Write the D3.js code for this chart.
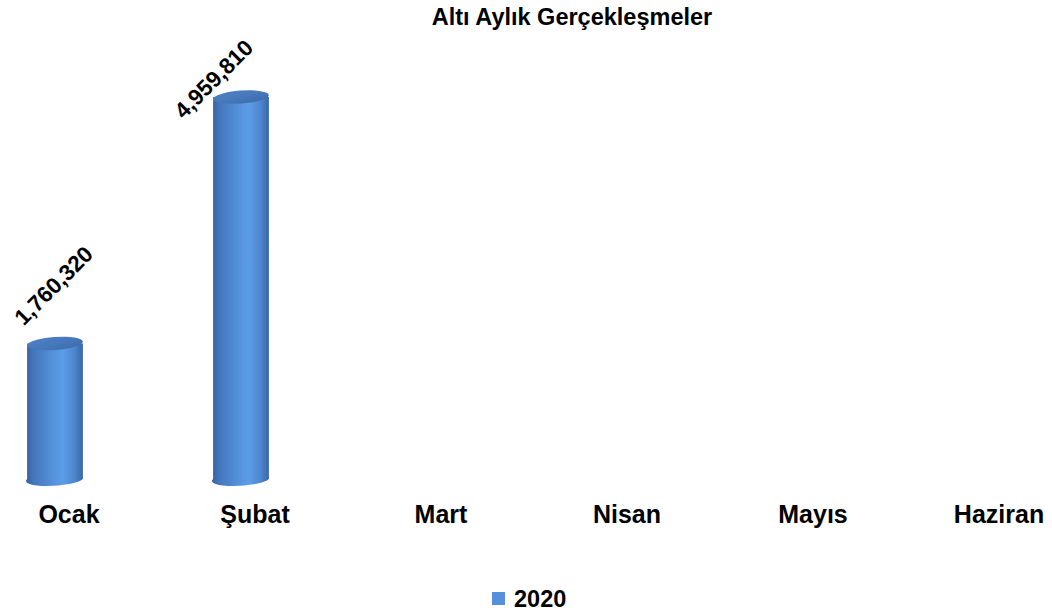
<!DOCTYPE html>
<html><head><meta charset="utf-8">
<script src="https://cdn.jsdelivr.net/npm/d3@7"></script>
<style>body{margin:0;background:#fff}svg{display:block}text{font-family:"Liberation Sans",Arial,sans-serif;font-weight:bold;fill:#000}</style>
</head><body>
<svg id="c" width="1052" height="615"></svg>
<script>
const title = "Altı Aylık Gerçekleşmeler";
const months = ["Ocak","Şubat","Mart","Nisan","Mayıs","Haziran"];
const values2020 = [1760320, 4959810, null, null, null, null];
const seriesName = "2020";

const svg = d3.select("#c");
const x = d3.scaleBand().domain(months).range([-24, 1092]).paddingInner(0.7).paddingOuter(0.35);
const y = d3.scaleLinear().domain([0, 6000000]).range([479, 17]);
const barShift = -14;
const rx = () => x.bandwidth() / 2, ry = 6.5;

const defs = svg.append("defs");
const g1 = defs.append("linearGradient").attr("id","side").attr("x1","0").attr("x2","1").attr("y1","0").attr("y2","0");
[["0%","#36609e"],["12%","#4475bb"],["45%","#5390da"],["65%","#5c9de8"],["85%","#4e86cf"],["100%","#3a66a6"]]
  .forEach(s=>g1.append("stop").attr("offset",s[0]).attr("stop-color",s[1]));
const g2 = defs.append("linearGradient").attr("id","top").attr("x1","0").attr("x2","1").attr("y1","0").attr("y2","1");
[["0%","#4f82c6"],["50%","#4678bb"],["100%","#3b6aab"]]
  .forEach(s=>g2.append("stop").attr("offset",s[0]).attr("stop-color",s[1]));

const data = months.map((m,i)=>({m, v: values2020[i]})).filter(d=>d.v!=null);

const bars = svg.append("g");
data.forEach(d=>{
  const cx = x(d.m) + x.bandwidth()/2 + barShift;
  const yt = y(d.v), yb = y(0);
  const r = rx();
  const g = bars.append("g");
  g.append("path")
    .attr("d", `M${cx-r},${yt} L${cx-r},${yb} A${r},${ry} -4 0 0 ${cx+r},${yb} L${cx+r},${yt} Z`)
    .attr("fill","url(#side)");
  g.append("ellipse").attr("cx",cx).attr("cy",yt).attr("rx",r).attr("ry",ry)
    .attr("transform",`rotate(-4,${cx},${yt})`).attr("fill","url(#top)");
  let lx = cx - 1.5, ly = yt - 58;
  const minY = 79;
  if (ly < minY) { lx -= (minY - ly) * 0.65; ly = minY; }
  svg.append("text").attr("transform",`translate(${lx},${ly}) rotate(-45)`)
    .attr("text-anchor","middle").attr("dy","0.35em").attr("font-size",22.5)
    .text(d3.format(",")(d.v));
});

svg.append("g").selectAll("text").data(months).join("text")
  .attr("x", d=>x(d)+x.bandwidth()/2).attr("y", 523)
  .attr("text-anchor","middle").attr("font-size",25).text(d=>d);

svg.append("text").attr("x",572).attr("y",25).attr("text-anchor","middle").attr("font-size",23.5).text(title);

const lg = svg.append("g");
lg.append("rect").attr("x",492).attr("y",592).attr("width",13).attr("height",13).attr("fill","#568fdb");
lg.append("text").attr("x",514).attr("y",607).attr("font-size",23.5).text(seriesName);
</script>
</body></html>
